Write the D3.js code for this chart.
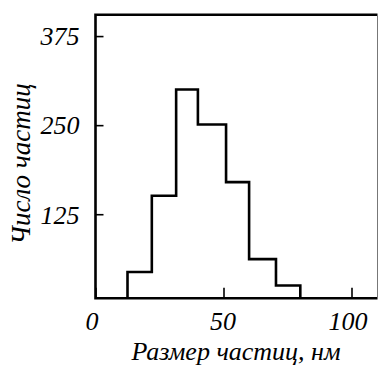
<!DOCTYPE html>
<html>
<head>
<meta charset="utf-8">
<script src="https://cdn.jsdelivr.net/npm/d3@7"></script>
<style>
  body { margin: 0; background: #fff; }
  text { font-family: "Liberation Serif", "Times New Roman", serif; font-style: italic; }
</style>
</head>
<body>
<div id="chart"></div>
<script>
// границы интервалов (нм) и число частиц в каждом
const binEdges = [12.5, 22, 31.5, 40, 51, 60, 70.5, 80];
const counts = [44, 151, 300, 251, 170, 62, 25];
const xTicks = [0, 50, 100];
const yTicks = [125, 250, 375];
const xTitle = 'Размер частиц, нм';
const yTitle = 'Число частиц';

const width = 378, height = 369;
const plot = { left: 95.5, top: 14.7, right: 377.5, bottom: 298.3 };

const svg = d3.select('#chart').append('svg')
  .attr('width', width)
  .attr('height', height);

const x = d3.scaleLinear().domain([0, 110]).range([plot.left, plot.left + 110 * 2.56]);
const y = d3.scaleLinear().domain([7, 405]).range([plot.bottom, plot.top]);

// ступенчатый контур гистограммы
const pts = [[binEdges[0], 7]];
counts.forEach((c, i) => {
  pts.push([binEdges[i], c]);
  pts.push([binEdges[i + 1], c]);
});
pts.push([binEdges[binEdges.length - 1], 7]);

svg.append('path')
  .datum(pts)
  .attr('fill', 'none')
  .attr('stroke', '#000')
  .attr('stroke-width', 2.6)
  .attr('stroke-linejoin', 'miter')
  .attr('d', d3.line().x(d => x(d[0])).y(d => y(d[1])));

// оси (тики внутрь)
const xAxis = svg.append('g')
  .attr('transform', `translate(0,${plot.bottom})`)
  .call(d3.axisBottom(x).tickValues(xTicks).tickSizeInner(-10.5).tickSizeOuter(0).tickFormat(d3.format('d')));
xAxis.select('.domain').remove();
xAxis.selectAll('line').attr('stroke', '#000').attr('stroke-width', 1.6);
xAxis.selectAll('text')
  .attr('y', 32)
  .attr('dy', 0)
  .attr('dx', d => d === 50 ? -1 : -4)
  .attr('fill', '#000')
  .style('font-size', '26px');

const yAxis = svg.append('g')
  .attr('transform', `translate(${plot.left},0)`)
  .call(d3.axisLeft(y).tickValues(yTicks).tickSizeInner(-8).tickSizeOuter(0));
yAxis.select('.domain').remove();
yAxis.selectAll('line').attr('stroke', '#000').attr('stroke-width', 1.6);
yAxis.selectAll('text')
  .attr('x', -16)
  .attr('dy', '0.34em')
  .attr('fill', '#000')
  .style('font-size', '26px');

// рамка
svg.append('path')
  .attr('fill', 'none')
  .attr('stroke', '#000')
  .attr('stroke-width', 2.6)
  .attr('d', `M${plot.right},${plot.top}H${plot.left}V${plot.bottom}H${plot.right}`);
svg.append('line')
  .attr('x1', plot.right).attr('x2', plot.right)
  .attr('y1', plot.top).attr('y2', plot.bottom)
  .attr('stroke', '#777')
  .attr('stroke-width', 1);

svg.append('text')
  .attr('x', 236)
  .attr('y', 360)
  .attr('text-anchor', 'middle')
  .style('font-size', '26px')
  .text(xTitle);

svg.append('text')
  .attr('transform', 'translate(30,164) rotate(-90)')
  .attr('text-anchor', 'middle')
  .style('font-size', '27px')
  .text(yTitle);
</script>
</body>
</html>
